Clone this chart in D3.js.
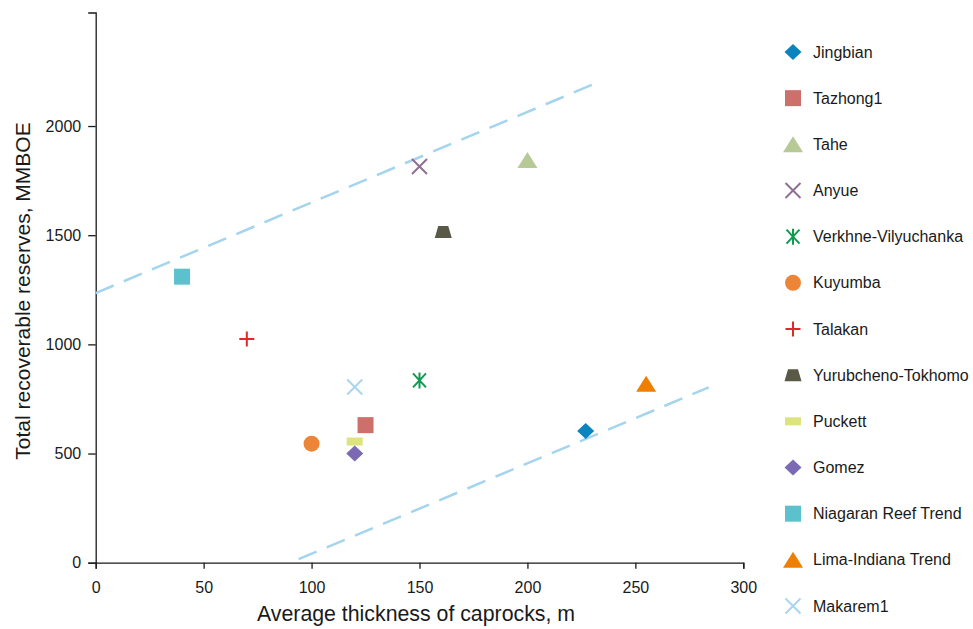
<!DOCTYPE html>
<html>
<head>
<meta charset="utf-8">
<script src="https://cdn.jsdelivr.net/npm/d3@7"></script>
<style>
  body { margin: 0; background: #fff; }
  text { font-family: "Liberation Sans", Arial, sans-serif; fill: #1a1a1a; }
  .axis path, .axis line { stroke: #1a1a1a; stroke-width: 1.3; }
  .axis text { font-size: 16px; }
</style>
</head>
<body>
<div id="chart"></div>
<script>
var width = 973;
var height = 629;

// fields, caprock thickness (m) and total recoverable reserves (MMBOE)
var fields = ["Jingbian", "Tazhong1", "Tahe", "Anyue", "Verkhne-Vilyuchanka", "Kuyumba", "Talakan",
              "Yurubcheno-Tokhomo", "Puckett", "Gomez", "Niagaran Reef Trend", "Lima-Indiana Trend", "Makarem1"];
var thickness = [227, 125, 200, 150, 150, 100, 70, 161, 120, 120, 40, 255, 120];
var reserves = [603, 630, 1845, 1815, 835, 545, 1025, 1515, 555, 500, 1310, 820, 805];

// marker look for each field
var shapes = ["diamond", "square", "triangle", "cross", "asterisk", "circle", "plus",
              "trapezoid", "bar", "diamond", "square", "triangle", "cross"];
var colors = ["#0b83bf", "#cd6f6b", "#b7c997", "#8e6f93", "#0e9a50", "#ec8537", "#e2272a",
              "#5a5847", "#dce47e", "#7b6ab3", "#5bc2cd", "#ef7f00", "#a9d6ee"];

// dashed envelope lines [thickness, reserves]
var upperLine = [[0, 1235], [230, 2189]];
var lowerLine = [[94, 16], [284, 803]];

var xTicks = [0, 50, 100, 150, 200, 250, 300];
var yTicks = [0, 500, 1000, 1500, 2000];

var xScale = d3.scaleLinear().domain([0, 300]).range([95.7, 743.3]);
var yScale = d3.scaleLinear().domain([0, 2520]).range([562.7, 12.5]);

var svg = d3.select("#chart")
            .append("svg")
            .attr("width", width)
            .attr("height", height);

svg.append("rect").attr("width", width).attr("height", height).attr("fill", "#fff");

// axes
var xAxis = d3.axisBottom(xScale).tickValues(xTicks).tickFormat(d3.format("d"))
              .tickSize(6).tickSizeOuter(6).tickPadding(13);
var yAxis = d3.axisLeft(yScale).tickValues(yTicks).tickFormat(d3.format("d"))
              .tickSize(7.5).tickSizeOuter(7.5).tickPadding(7);

svg.append("g")
   .attr("class", "axis")
   .attr("transform", "translate(0," + yScale(0) + ")")
   .call(xAxis);

svg.append("g")
   .attr("class", "axis")
   .attr("transform", "translate(" + xScale(0) + ",0)")
   .call(yAxis);

svg.selectAll(".axis .domain").attr("fill", "none");

// axis titles
svg.append("text")
   .attr("x", 416)
   .attr("y", 621)
   .style("font-size", "21.3px")
   .style("text-anchor", "middle")
   .text("Average thickness of caprocks, m");

svg.append("text")
   .attr("transform", "translate(30,291) rotate(-90)")
   .style("font-size", "21px")
   .style("text-anchor", "middle")
   .text("Total recoverable reserves, MMBOE");

// dashed lines
var line = d3.line()
  .x(function(d) { return xScale(d[0]); })
  .y(function(d) { return yScale(d[1]); });

[upperLine, lowerLine].forEach(function(l) {
  svg.append("path")
     .attr("d", line(l))
     .attr("fill", "none")
     .attr("stroke", "#a4d4ee")
     .attr("stroke-width", 2.5)
     .attr("stroke-dasharray", "19.5,11");
});

function drawMarker(g, shape, color) {
  if (shape == "circle") {
    g.append("circle").attr("r", 8).attr("fill", color);
  } else if (shape == "square") {
    g.append("rect").attr("x", -8).attr("y", -8).attr("width", 16).attr("height", 16).attr("fill", color);
  } else if (shape == "bar") {
    g.append("rect").attr("x", -8).attr("y", -4).attr("width", 16).attr("height", 8).attr("fill", color);
  } else if (shape == "diamond") {
    g.append("path").attr("d", "M0,-8L8.5,0L0,8L-8.5,0Z").attr("fill", color);
  } else if (shape == "triangle") {
    g.append("path").attr("d", "M0,-8L10,8L-10,8Z").attr("fill", color);
  } else if (shape == "trapezoid") {
    g.append("path").attr("d", "M-5,-6L5,-6L8.5,6L-8.5,6Z").attr("fill", color);
  } else if (shape == "cross") {
    g.append("path").attr("d", "M-7.5,-7.5L7.5,7.5M-7.5,7.5L7.5,-7.5")
     .attr("stroke", color).attr("stroke-width", 2).attr("fill", "none");
  } else if (shape == "asterisk") {
    g.append("path").attr("d", "M-6.5,-7L6.5,7M-6.5,7L6.5,-7M0,-8L0,8")
     .attr("stroke", color).attr("stroke-width", 2).attr("fill", "none");
  } else if (shape == "plus") {
    g.append("path").attr("d", "M-7.5,0L7.5,0M0,-7.5L0,7.5")
     .attr("stroke", color).attr("stroke-width", 2).attr("fill", "none");
  }
}

// points
fields.forEach(function(f, i) {
  var g = svg.append("g")
             .attr("transform", "translate(" + xScale(thickness[i]) + "," + yScale(reserves[i]) + ")");
  drawMarker(g, shapes[i], colors[i]);
});

// legend
var legendY = d3.scalePoint().domain(fields).range([52, 606]);

fields.forEach(function(f, i) {
  var g = svg.append("g")
             .attr("transform", "translate(793," + legendY(f) + ")");
  drawMarker(g, shapes[i], colors[i]);
  g.append("text")
   .attr("x", 20)
   .attr("dy", "0.35em")
   .style("font-size", "16px")
   .text(f);
});
</script>
</body>
</html>
